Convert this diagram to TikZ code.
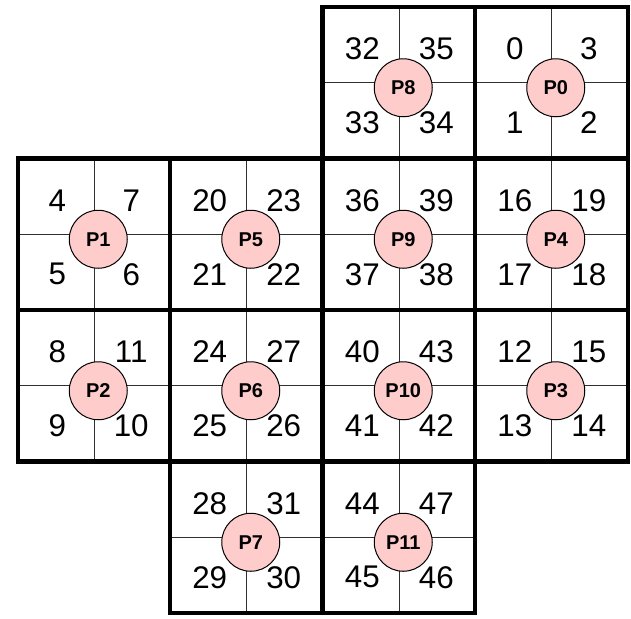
\documentclass[tikz,border=0pt]{standalone}
\usepackage{fontspec}
\setmainfont{Liberation Sans}
\usetikzlibrary{positioning}
\definecolor{pinkfill}{HTML}{FFCCCC}
\definecolor{gridgray}{HTML}{303030}

\begin{document}
\begin{tikzpicture}[x=0.75pt,y=-0.75pt,
  blockline/.style={line width=3.3pt,line cap=rect},
  cellline/.style={line width=0.75pt,gridgray},
  num/.style={font=\fontsize{23.5}{26}\selectfont,inner sep=0pt},
  proc/.style={circle,draw,fill=pinkfill,line width=0.75pt,minimum size=43.5pt,inner sep=0pt,font=\fontsize{15}{17}\selectfont\bfseries}]
\useasboundingbox (0,0) rectangle (631,618);
% cells of each block: col/row/name/first number
\foreach \c/\r/\p in {2/0/8,3/0/0,0/1/1,1/1/5,2/1/9,3/1/4,0/2/2,1/2/6,2/2/10,3/2/3,1/3/7,2/3/11}{
  \pgfmathsetmacro{\cx}{18+152.5*\c+76.25}
  \pgfmathsetmacro{\cy}{7+151.5*\r+75.75}
  \pgfmathtruncatemacro{\na}{4*\p}
  \pgfmathtruncatemacro{\nb}{4*\p+1}
  \pgfmathtruncatemacro{\nc}{4*\p+2}
  \pgfmathtruncatemacro{\nd}{4*\p+3}
  \coordinate (m\p) at (\cx,\cy);
  \draw[cellline] (\cx-76.25,\cy) -- (\cx+76.25,\cy);
  \draw[cellline] (\cx,\cy-75.75) -- (\cx,\cy+75.75);
  \node[num] (n\na) at (\cx-37,\cy-34) {\na};
  \node[num] (n\nb) at (\cx-37,\cy+40) {\nb};
  \node[num] (n\nc) at (\cx+37,\cy+40) {\nc};
  \node[num] (n\nd) at (\cx+37,\cy-34) {\nd};
  \node[proc] (p\p) at (\cx+4,\cy+5) {P\p};
}
% block borders
\draw[blockline] (322,7) -- (628,7);
\draw[blockline] (18,158.5) -- (628,158.5);
\draw[blockline] (18,310) -- (628,310);
\draw[blockline] (18,461.5) -- (628,461.5);
\draw[blockline] (170,613) -- (475,613);
\draw[blockline] (18,158.5) -- (18,461.5);
\draw[blockline] (170,158.5) -- (170,613);
\draw[blockline] (322.5,7) -- (322.5,613);
\draw[blockline] (475,7) -- (475,613);
\draw[blockline] (628,7) -- (628,461.5);
\end{tikzpicture}
\end{document}
